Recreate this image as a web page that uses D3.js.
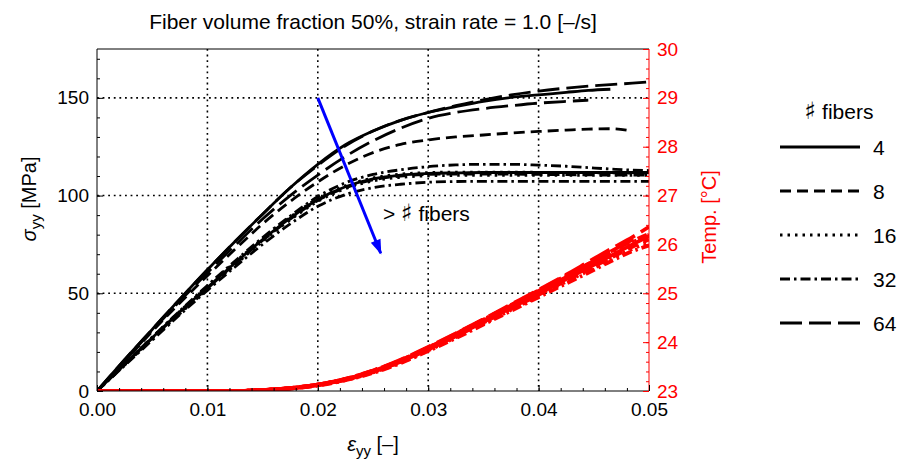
<!DOCTYPE html>
<html>
<head>
<meta charset="utf-8">
<script src="https://cdn.jsdelivr.net/npm/d3@7"></script>
<style>
  body { margin: 0; background: #fff; }
  text { font-family: "Liberation Sans", Arial, sans-serif; }
</style>
</head>
<body>
<div id="chart"></div>
<script>
// strain values shared by every curve
const strain = [0, 0.0025, 0.005, 0.0075, 0.01, 0.0125, 0.015, 0.0175, 0.02, 0.0225, 0.025,
  0.0275, 0.03, 0.0325, 0.035, 0.0375, 0.04, 0.0425, 0.0445, 0.0465, 0.0485, 0.05];

const fiberCounts = ["4", "8", "16", "32", "64"];

// stress sigma_yy [MPa], two realisations per fiber count (null = curve ended)
const stress4a  = [0, 16, 31.5, 47, 62, 76.5, 90.5, 104, 116, 126, 133, 138.5, 142.5, 145.5, 148.2, 150.2, 151.5, 152.8, 153.8, 154.4, null, null];
const stress4b  = [0, 13.6, 27.2, 40.5, 53, 65.5, 77.5, 88.5, 98, 104.5, 108.5, 110.5, 111.3, 111.6, 111.8, 111.8, 111.8, 111.8, 111.8, 111.8, 111.8, 111.8];
const stress8a  = [0, 15, 30.5, 45, 59, 72.5, 85.5, 97, 107, 115.5, 122, 126.2, 128.5, 130, 131, 132, 132.8, 133.5, 134, 134.2, 133, null];
const stress8b  = [0, 13.5, 27, 40, 52.5, 65, 77, 88, 97.5, 104, 108, 110, 110.8, 111, 111, 111, 110.8, 110.7, 110.6, 110.5, 110.5, 110.5];
const stress16a = [0, 13.8, 27.5, 40.8, 53.5, 66, 78, 89, 98.5, 105, 109, 111, 111.8, 112, 112, 112, 111.9, 111.8, 111.7, 111.6, 111.5, 111.5];
const stress16b = [0, 13.2, 26.5, 39.5, 52, 64.5, 76.5, 87.5, 97, 103.5, 107.5, 109.3, 110.1, 110.3, 110.4, 110.4, 110.4, 110.4, 110.4, 110.4, 110.4, 110.4];
const stress32a = [0, 13.8, 27.5, 41, 54, 66.5, 78.5, 89.5, 99.5, 106.5, 110.8, 113.2, 114.8, 115.7, 116, 116, 115.6, 115, 114.3, 113.6, 113, 112.8];
const stress32b = [0, 13, 26, 39, 51.5, 63.5, 75, 85.5, 94.5, 100.5, 104, 105.8, 106.8, 107.2, 107.3, 107.3, 107.3, 107.3, 107.3, 107.3, 107.3, 107.3];
const stress64a = [0, 16, 31.5, 47, 62, 76.5, 90.5, 104, 115.5, 125.5, 133, 138.5, 142.5, 146, 149, 151.5, 153.5, 155, 156, 156.8, 157.5, 158.2];
const stress64b = [0, 15.5, 31, 46, 60.5, 74.5, 88, 100, 110.5, 120, 128, 134.5, 139.5, 142.5, 144.5, 146, 147.3, 148.2, 148.8, null, null, null];

// temperature [°C]
const temp4a  = [23, 23, 23, 23, 23, 23, 23.02, 23.06, 23.13, 23.24, 23.41, 23.62, 23.88, 24.15, 24.44, 24.73, 25.03, 25.33, 25.58, 25.83, null, null];
const temp4b  = [23, 23, 23, 23, 23, 23, 23.02, 23.05, 23.12, 23.23, 23.39, 23.6, 23.86, 24.13, 24.41, 24.7, 24.99, 25.29, 25.52, 25.76, 26.0, 26.17];
const temp8a  = [23, 23, 23, 23, 23, 23, 23.02, 23.06, 23.13, 23.24, 23.41, 23.63, 23.89, 24.17, 24.46, 24.75, 25.05, 25.35, 25.6, 25.85, 26.1, null];
const temp8b  = [23, 23, 23, 23, 23, 23, 23.02, 23.05, 23.12, 23.23, 23.39, 23.6, 23.85, 24.12, 24.4, 24.68, 24.97, 25.26, 25.49, 25.72, 25.95, 26.1];
const temp16a = [23, 23, 23, 23, 23, 23, 23.02, 23.06, 23.13, 23.24, 23.4, 23.61, 23.87, 24.14, 24.43, 24.72, 25.02, 25.32, 25.56, 25.8, 26.04, 26.2];
const temp16b = [23, 23, 23, 23, 23, 23, 23.02, 23.05, 23.12, 23.22, 23.38, 23.58, 23.83, 24.1, 24.38, 24.66, 24.95, 25.24, 25.46, 25.69, 25.91, 26.05];
const temp32a = [23, 23, 23, 23, 23, 23, 23.02, 23.06, 23.13, 23.25, 23.42, 23.63, 23.89, 24.17, 24.46, 24.76, 25.06, 25.36, 25.6, 25.84, 26.07, 26.22];
const temp32b = [23, 23, 23, 23, 23, 23, 23.02, 23.05, 23.11, 23.22, 23.37, 23.57, 23.82, 24.08, 24.36, 24.64, 24.92, 25.2, 25.42, 25.65, 25.86, 25.98];
const temp64a = [23, 23, 23, 23, 23, 23, 23.02, 23.06, 23.13, 23.25, 23.42, 23.64, 23.9, 24.18, 24.47, 24.77, 25.07, 25.38, 25.64, 25.9, 26.15, 26.36];
const temp64b = [23, 23, 23, 23, 23, 23, 23.02, 23.06, 23.13, 23.24, 23.4, 23.61, 23.87, 24.14, 24.43, 24.72, 25.02, 25.31, 25.55, null, null, null];

const curves = [
  { fibers: "4",  stress: stress4a,  temp: temp4a },
  { fibers: "4",  stress: stress4b,  temp: temp4b },
  { fibers: "8",  stress: stress8a,  temp: temp8a },
  { fibers: "8",  stress: stress8b,  temp: temp8b },
  { fibers: "16", stress: stress16a, temp: temp16a },
  { fibers: "16", stress: stress16b, temp: temp16b },
  { fibers: "32", stress: stress32a, temp: temp32a },
  { fibers: "32", stress: stress32b, temp: temp32b },
  { fibers: "64", stress: stress64a, temp: temp64a },
  { fibers: "64", stress: stress64b, temp: temp64b }
];

// tick values
const xTicks = [0, 0.01, 0.02, 0.03, 0.04, 0.05];
const yTicks = [0, 50, 100, 150];
const tTicks = [23, 24, 25, 26, 27, 28, 29, 30];

const dashes = { "4": null, "8": "11,6", "16": "2.5,5", "32": "10,4,2.5,4", "64": "22,7" };

const width = 904, height = 461;
const margin = { top: 49, right: 255, bottom: 70, left: 97 };
const sharp = "\u266F";

const svg = d3.select("#chart").append("svg")
  .attr("width", width).attr("height", height);

// scales
const x = d3.scaleLinear().domain([0, 0.05]).range([margin.left, width - margin.right]);
const y = d3.scaleLinear().domain([0, 175]).range([height - margin.bottom, margin.top]);
const yT = d3.scaleLinear().domain([23, 30]).range([height - margin.bottom, margin.top]);

svg.append("defs").append("clipPath").attr("id", "plotclip")
  .append("rect")
  .attr("x", x(0)).attr("y", y(175))
  .attr("width", x(0.05) - x(0)).attr("height", y(0) - y(175));

// dotted grid
const grid = svg.append("g").attr("stroke", "#000").attr("stroke-width", 1.6)
  .attr("stroke-dasharray", "1.8,3.8");
grid.selectAll(".gx").data(xTicks.slice(1, -1)).join("line")
  .attr("x1", d => x(d)).attr("x2", d => x(d))
  .attr("y1", y(175)).attr("y2", y(0));
grid.selectAll(".gy").data(yTicks.slice(1)).join("line")
  .attr("x1", x(0)).attr("x2", x(0.05))
  .attr("y1", d => y(d)).attr("y2", d => y(d));

const plot = svg.append("g").attr("clip-path", "url(#plotclip)");

// stress curves
const stressLine = d3.line()
  .defined(d => d[1] != null)
  .x(d => x(d[0])).y(d => y(d[1]))
  .curve(d3.curveMonotoneX);

plot.selectAll(".stress").data(curves).join("path")
  .attr("class", "stress")
  .attr("d", c => stressLine(strain.map((s, i) => [s, c.stress[i]])))
  .attr("fill", "none")
  .attr("stroke", "#000")
  .attr("stroke-width", 2.8)
  .attr("stroke-dasharray", c => dashes[c.fibers]);

// temperature curves
const tempLine = d3.line()
  .defined(d => d[1] != null)
  .x(d => x(d[0])).y(d => yT(d[1]))
  .curve(d3.curveMonotoneX);

plot.selectAll(".temp").data(curves).join("path")
  .attr("class", "temp")
  .attr("d", c => tempLine(strain.map((s, i) => [s, c.temp[i]])))
  .attr("fill", "none")
  .attr("stroke", "#ff0000")
  .attr("stroke-width", 3.8)
  .attr("stroke-dasharray", c => dashes[c.fibers]);

// frame
svg.append("path")
  .attr("d", `M${x(0.05)},${y(175)}H${x(0)}V${y(0)}H${x(0.05)}`)
  .attr("fill", "none").attr("stroke", "#000").attr("stroke-width", 1);
svg.append("line")
  .attr("x1", x(0.05)).attr("x2", x(0.05)).attr("y1", y(175)).attr("y2", y(0))
  .attr("stroke", "#ff0000").attr("stroke-width", 1);

// axes
const tickFont = 19;
function styleAxis(g, color) {
  g.select(".domain").remove();
  g.selectAll("line").attr("stroke", color);
  g.selectAll("text").attr("fill", color).style("font-size", tickFont + "px")
    .style("font-family", "'Liberation Sans', Arial, sans-serif");
}

svg.append("g").attr("transform", `translate(0,${y(0)})`)
  .call(d3.axisBottom(x).tickValues(d3.range(0, 0.0501, 0.002)).tickSize(-3).tickFormat(""))
  .call(g => styleAxis(g, "#000"));
svg.append("g").attr("transform", `translate(0,${y(0)})`)
  .call(d3.axisBottom(x).tickValues(xTicks).tickSize(-6).tickPadding(12).tickFormat(d3.format(".2f")))
  .call(g => styleAxis(g, "#000"));

svg.append("g").attr("transform", `translate(${x(0)},0)`)
  .call(d3.axisLeft(y).tickValues(d3.range(0, 171, 10)).tickSize(-3).tickFormat(""))
  .call(g => styleAxis(g, "#000"));
svg.append("g").attr("transform", `translate(${x(0)},0)`)
  .call(d3.axisLeft(y).tickValues(yTicks).tickSize(-6).tickPadding(8))
  .call(g => styleAxis(g, "#000"));

svg.append("g").attr("transform", `translate(${x(0.05)},0)`)
  .call(d3.axisRight(yT).tickValues(d3.range(23, 30.01, 0.2)).tickSize(-3).tickFormat(""))
  .call(g => styleAxis(g, "#ff0000"));
svg.append("g").attr("transform", `translate(${x(0.05)},0)`)
  .call(d3.axisRight(yT).tickValues(tTicks).tickSize(-6).tickPadding(8).tickFormat(d3.format("d")))
  .call(g => styleAxis(g, "#ff0000"));

// title
svg.append("text")
  .attr("x", (x(0) + x(0.05)) / 2).attr("y", 29)
  .attr("text-anchor", "middle").style("font-size", "21px")
  .text("Fiber volume fraction 50%, strain rate = 1.0 [\u2013/s]");

// axis labels
const xl = svg.append("text")
  .attr("x", (x(0) + x(0.05)) / 2).attr("y", 451)
  .attr("text-anchor", "middle").style("font-size", "20px");
xl.append("tspan").style("font-style", "italic").text("\u03b5");
xl.append("tspan").attr("dy", 5).style("font-size", "15px").text("yy");
xl.append("tspan").attr("dy", -5).text(" [\u2013]");

const yl = svg.append("text")
  .attr("transform", `translate(36,199) rotate(-90)`)
  .attr("text-anchor", "middle").style("font-size", "20px");
yl.append("tspan").style("font-style", "italic").text("\u03c3");
yl.append("tspan").attr("dy", 5).style("font-size", "15px").text("yy");
yl.append("tspan").attr("dy", -5).text(" [MPa]");

svg.append("text")
  .attr("transform", `translate(716,217) rotate(-90)`)
  .attr("text-anchor", "middle").style("font-size", "20px")
  .attr("fill", "#ff0000")
  .text("Temp. [\u00b0C]");

// trend arrow
svg.append("defs").append("marker")
  .attr("id", "head").attr("viewBox", "0 0 10 10")
  .attr("refX", 9).attr("refY", 5)
  .attr("markerWidth", 8).attr("markerHeight", 5)
  .attr("markerUnits", "strokeWidth")
  .attr("orient", "auto")
  .append("path").attr("d", "M0,1.5L10,5L0,8.5Z").attr("fill", "#0000ff");

svg.append("line")
  .attr("x1", x(0.02)).attr("y1", y(150))
  .attr("x2", x(0.0257)).attr("y2", y(70.5))
  .attr("stroke", "#0000ff").attr("stroke-width", 3)
  .attr("marker-end", "url(#head)");

const note = svg.append("text")
  .attr("x", x(0.0259)).attr("y", y(87))
  .style("font-size", "21px");
note.append("tspan").text("> ");
note.append("tspan").style("font-family", "'DejaVu Sans', sans-serif").style("font-size", "24px").text(sharp);
note.append("tspan").text(" fibers");

// legend
const legend = svg.append("g");
const lt = legend.append("text")
  .attr("x", 839).attr("y", 119)
  .attr("text-anchor", "middle").style("font-size", "21px");
lt.append("tspan").style("font-family", "'DejaVu Sans', sans-serif").style("font-size", "24px").text(sharp);
lt.append("tspan").text(" fibers");

const items = legend.selectAll(".item").data(fiberCounts).join("g")
  .attr("transform", (d, i) => `translate(0,${147 + i * 44})`);
items.append("line")
  .attr("x1", 780).attr("x2", 860)
  .attr("stroke", "#000").attr("stroke-width", 2.8)
  .attr("stroke-dasharray", d => dashes[d]);
items.append("text")
  .attr("x", 873).attr("y", 7.5)
  .style("font-size", "21px")
  .text(d => d);
</script>
</body>
</html>
